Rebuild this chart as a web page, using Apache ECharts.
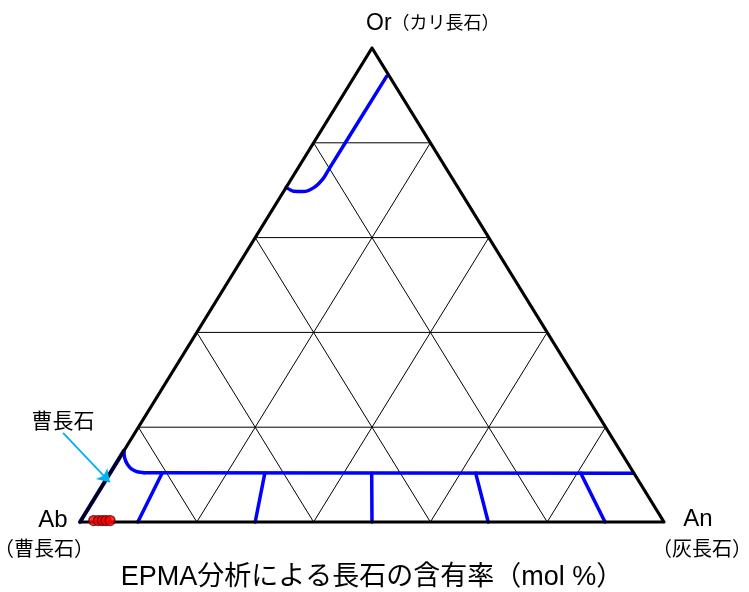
<!DOCTYPE html>
<html><head><meta charset="utf-8">
<script src="https://cdn.jsdelivr.net/npm/echarts@6/dist/echarts.min.js"></script>
<style>html,body{margin:0;padding:0;background:#fff}#c{width:749px;height:592px}</style>
</head><body><div id="c"></div>
<script>
// Ternary data in percent: [An, Or]  (Ab = 100 - An - Or)
const gridFractions = [20, 40, 60, 80];
const triangleOutline = [[0, 0], [100, 0], [0, 100], [0, 0]];
const solvusUpper = [[5.5, 94.0], [5.4, 74.3], [5.4, 72.4], [4.8, 70.6], [3.4, 69.7], [1.7, 69.8], [0, 70.6]];
const solvusLowerEdge = [[0, 0], [0, 15.0]];
const solvusLowerBend = [[0, 15.0], [0.9, 13.5], [2.0, 12.2], [3.2, 11.2], [4.5, 10.6], [5.8, 10.4]];
const solvusLowerFlat = [[5.8, 10.4], [89.6, 10.3]];
const tieLines = [
  [[9.9, 0], [8.9, 10.3]],
  [[30.0, 0], [26.5, 10.3]],
  [[50.0, 0], [44.8, 10.3]],
  [[69.9, 0], [62.6, 10.3]],
  [[89.9, 0], [80.6, 10.3]]
];
const samples = [[2.2, 0.3], [3.0, 0.3], [3.7, 0.3], [4.3, 0.3], [5.0, 0.3]];
const arrowTarget = [0.9, 8.4];
const arrowTail = [-12.3, 18.8];
const vertexNames = { topA: 'Or', topB: '（カリ長石）', left: 'Ab', leftSub: '（曹長石）', right: 'An', rightSub: '（灰長石）' };
const noteText = '曹長石';
const titleText = 'EPMA分析による長石の含有率（mol %）';

function toXY(p) { return [(p[0] + p[1] / 2) / 100, p[1] / 100]; }

const FONT = '"Liberation Sans", "Noto Sans CJK JP", sans-serif';
const series = [];
function addLine(pts, color, width, smooth, z) {
  series.push({
    type: 'line', data: pts.map(toXY), showSymbol: false, symbol: 'none', clip: false,
    smooth: smooth || false, lineStyle: { color: color, width: width, cap: 'round', join: 'round' }, z: z || 2, silent: true, animation: false
  });
}
gridFractions.forEach(f => {
  addLine([[0, f], [100 - f, f]], '#000', 1, false, 1);
  addLine([[f, 0], [f, 100 - f]], '#000', 1, false, 1);
  addLine([[100 - f, 0], [0, 100 - f]], '#000', 1, false, 1);
});
addLine(solvusUpper, '#0000ff', 3.5, 0.35, 3);
addLine(solvusLowerEdge, '#0000ff', 4, false, 3);
addLine(solvusLowerBend, '#0000ff', 3.5, 0.3, 3);
addLine(solvusLowerFlat, '#0000ff', 3.5, false, 3);
tieLines.forEach(t => addLine(t, '#0000ff', 3.5, false, 3));
addLine(triangleOutline, '#000', 3.2, false, 4);
series.push({
  type: 'scatter', data: samples.map(toXY), symbol: 'circle', symbolSize: 10, clip: false, z: 6,
  itemStyle: { color: '#ff0000', borderColor: '#600000', borderWidth: 1.3 }, animation: false
});
series.push({
  type: 'lines', coordinateSystem: 'cartesian2d', polyline: false, z: 7, animation: false,
  symbol: ['none', 'arrow'], symbolSize: [0, 12],
  lineStyle: { color: '#00b0f0', width: 1.8, opacity: 1 },
  data: [{ coords: [toXY(arrowTail), toXY(arrowTarget)] }]
});

const chart = echarts.init(document.getElementById('c'), null, { renderer: 'canvas' });
const W = 584, H = 474;
chart.setOption({
  animation: false,
  grid: { left: 80 - 0.1 * W, width: 1.2 * W, top: 48 - 0.05 * H, height: 1.1 * H },
  xAxis: { type: 'value', min: -0.1, max: 1.1, show: false, splitLine: { show: false } },
  yAxis: { type: 'value', min: -0.05, max: 1.05, show: false, splitLine: { show: false } },
  series: series,
  graphic: [
    { type: 'text', x: 366, y: 24, style: {
        text: '{a|' + vertexNames.topA + '}{b|' + vertexNames.topB + '}',
        rich: { a: { font: '23px ' + FONT, fill: '#000' }, b: { font: '18px ' + FONT, fill: '#000' } },
        fill: '#000', textAlign: 'left', textVerticalAlign: 'middle' } },
    { type: 'text', x: 53, y: 520, style: { text: vertexNames.left, font: '24px ' + FONT, fill: '#000', textAlign: 'center', textVerticalAlign: 'middle' } },
    { type: 'text', x: 44, y: 550, style: { text: vertexNames.leftSub, font: '20px ' + FONT, fill: '#000', textAlign: 'center', textVerticalAlign: 'middle' } },
    { type: 'text', x: 698, y: 519, style: { text: vertexNames.right, font: '24px ' + FONT, fill: '#000', textAlign: 'center', textVerticalAlign: 'middle' } },
    { type: 'text', x: 702, y: 550, style: { text: vertexNames.rightSub, font: '20px ' + FONT, fill: '#000', textAlign: 'center', textVerticalAlign: 'middle' } },
    { type: 'text', x: 63, y: 422, style: { text: noteText, font: '21px ' + FONT, fill: '#000', textAlign: 'center', textVerticalAlign: 'middle' } },
    { type: 'text', x: 372, y: 578, style: { text: titleText, font: '27px ' + FONT, fill: '#000', textAlign: 'center', textVerticalAlign: 'middle' } }
  ]
});
</script></body></html>
